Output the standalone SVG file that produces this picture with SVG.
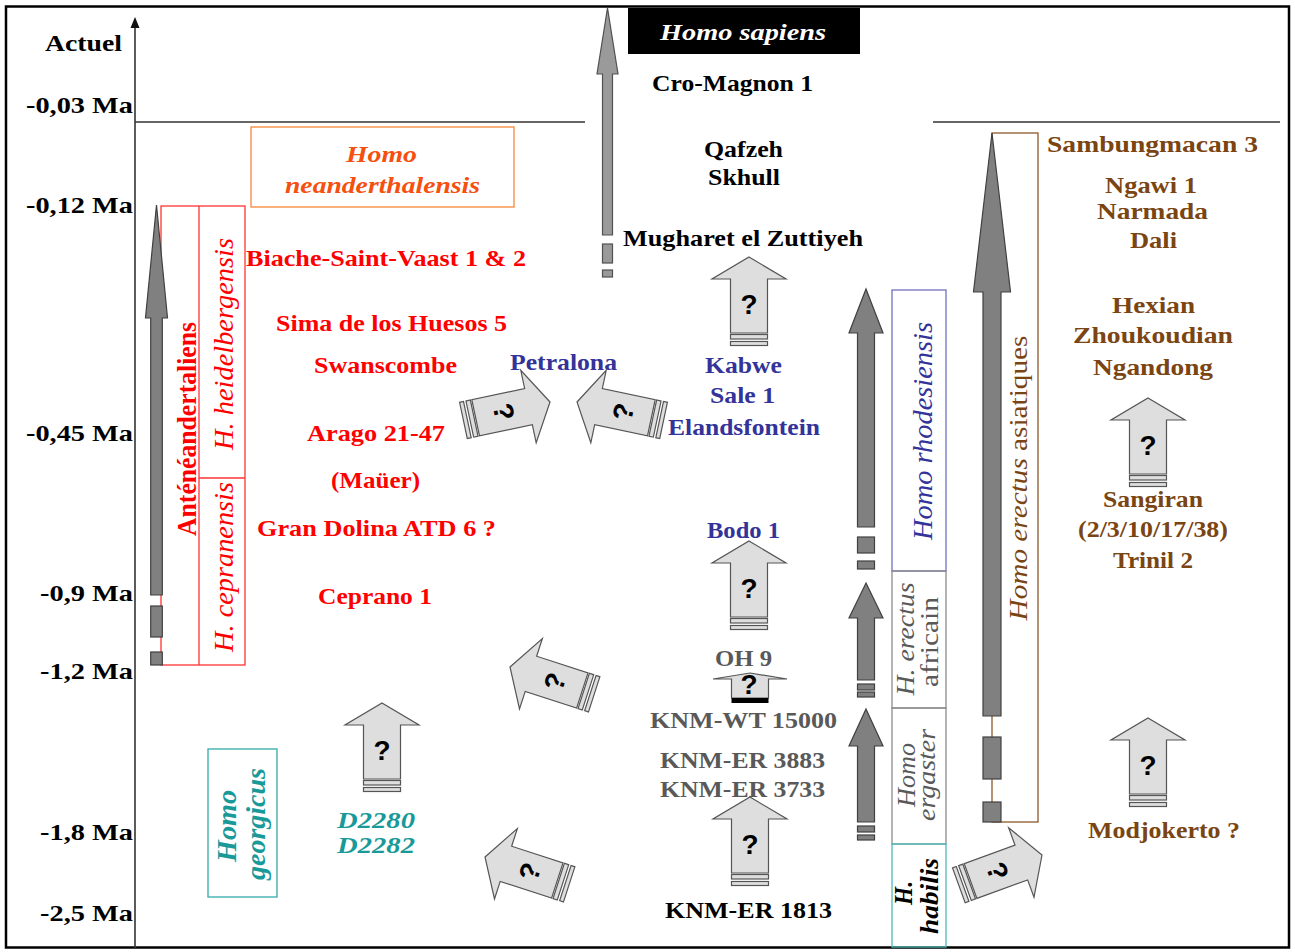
<svg xmlns="http://www.w3.org/2000/svg" xmlns:xlink="http://www.w3.org/1999/xlink" width="1295" height="952" viewBox="0 0 1295 952">
<style>
text{font-family:'Liberation Serif','Times New Roman',serif}
.b{font-weight:bold}
.i{font-style:italic}
.ax{font-size:23px;font-weight:bold;fill:#000}
.lb{font-size:23px;font-weight:bold}
.blk{fill:#000}
.red{fill:#ff0000}
.blu{fill:#333399}
.gry{fill:#595959}
.brn{fill:#7a4512}
.tea{fill:#1a9999}
.org{fill:#f5500f}
.q{font-family:'Liberation Sans',Arial,sans-serif;font-weight:bold;font-size:28px;fill:#000;text-anchor:middle}
.qf{fill:#dedede;stroke:#555;stroke-width:1.2}
.dk{fill:#808080;stroke:#404040;stroke-width:1.2}
.lt{fill:#9a9a9a;stroke:#505050;stroke-width:1.2}
.rot{text-anchor:middle}
</style>
<defs>
<g id="qa">
<path d="M0,0 L37,22 L18.5,22 L18.5,76 L-18.5,76 L-18.5,22 L-37,22 Z" class="qf"/>
<rect x="-18.5" y="77.5" width="37" height="4.5" class="qf"/>
<rect x="-18.5" y="84.5" width="37" height="4" class="qf"/>
<text x="0" y="57" class="q">?</text>
</g>
</defs>
<rect x="0" y="0" width="1295" height="952" fill="#fff"/>
<rect x="6" y="6.5" width="1283" height="941" fill="none" stroke="#000" stroke-width="2.5"/>

<g id="axis">
<line x1="135" y1="26" x2="135" y2="948" stroke="#333" stroke-width="1.6"/>
<path d="M135,17 L139.5,28 L130.5,28 Z" fill="#111"/>
<line x1="135" y1="122" x2="585" y2="122" stroke="#333" stroke-width="1.4"/>
<line x1="933" y1="122" x2="1280" y2="122" stroke="#333" stroke-width="1.4"/>
<text class="ax" x="45" y="51" textLength="77" lengthAdjust="spacingAndGlyphs">Actuel</text>
<text class="ax" x="26" y="113" textLength="107" lengthAdjust="spacingAndGlyphs">-0,03 Ma</text>
<text class="ax" x="26" y="213" textLength="107" lengthAdjust="spacingAndGlyphs">-0,12 Ma</text>
<text class="ax" x="26" y="441" textLength="107" lengthAdjust="spacingAndGlyphs">-0,45 Ma</text>
<text class="ax" x="40" y="601" textLength="93" lengthAdjust="spacingAndGlyphs">-0,9 Ma</text>
<text class="ax" x="40" y="679" textLength="93" lengthAdjust="spacingAndGlyphs">-1,2 Ma</text>
<text class="ax" x="40" y="840" textLength="93" lengthAdjust="spacingAndGlyphs">-1,8 Ma</text>
<text class="ax" x="40" y="921" textLength="93" lengthAdjust="spacingAndGlyphs">-2,5 Ma</text>
</g>

<g id="sapiens">
<rect x="628" y="8" width="232" height="46" fill="#000"/>
<text class="lb i" x="660" y="40" fill="#fff" textLength="166" lengthAdjust="spacingAndGlyphs">Homo sapiens</text>
<path d="M607.5,8 L618,74 L612.5,74 L612.5,235 L602.5,235 L602.5,74 L597,74 Z" class="lt"/>
<rect x="602.5" y="244" width="10" height="19" class="lt"/>
<rect x="602.5" y="270" width="10" height="7" class="lt"/>
<text class="lb blk" x="652" y="91" textLength="161" lengthAdjust="spacingAndGlyphs">Cro-Magnon 1</text>
<text class="lb blk" x="704" y="157" textLength="79" lengthAdjust="spacingAndGlyphs">Qafzeh</text>
<text class="lb blk" x="708" y="185" textLength="72" lengthAdjust="spacingAndGlyphs">Skhull</text>
<text class="lb blk" x="623" y="246" textLength="240" lengthAdjust="spacingAndGlyphs">Mugharet el Zuttiyeh</text>
</g>

<g id="neanderthalensis">
<rect x="251" y="127" width="263" height="80" fill="none" stroke="#f7873a" stroke-width="1.3"/>
<text class="lb i org" x="346" y="162" textLength="71" lengthAdjust="spacingAndGlyphs">Homo</text>
<text class="lb i org" x="285" y="193" textLength="195" lengthAdjust="spacingAndGlyphs">neanderthalensis</text>
</g>

<g id="anteneandertaliens">
<rect x="161" y="206" width="84" height="459" fill="none" stroke="#ff3333" stroke-width="1.3"/>
<line x1="199" y1="206" x2="199" y2="665" stroke="#ff3333" stroke-width="1.3"/>
<line x1="199" y1="478" x2="245" y2="478" stroke="#ff3333" stroke-width="1.3"/>
<path d="M156.5,205 L167.5,318 L162.3,318 L162.3,595 L150.7,595 L150.7,318 L145.5,318 Z" class="dk"/>
<rect x="150.7" y="606" width="11.6" height="31" class="dk"/>
<rect x="150.7" y="652" width="11.6" height="13" class="dk"/>
<text class="rot b red" font-size="24" transform="translate(196,429) scale(1.15,1) rotate(-90)" textLength="214" lengthAdjust="spacingAndGlyphs">Anténéandertaliens</text>
<text class="rot i red" font-size="24" transform="translate(233,344) scale(1.15,1) rotate(-90)" textLength="212" lengthAdjust="spacingAndGlyphs">H. heidelbergensis</text>
<text class="rot i red" font-size="24" transform="translate(233,567) scale(1.15,1) rotate(-90)" textLength="170" lengthAdjust="spacingAndGlyphs">H. cepranensis</text>
</g>

<g id="europe-sites">
<text class="lb red" x="246" y="266" textLength="280" lengthAdjust="spacingAndGlyphs">Biache-Saint-Vaast 1 &amp; 2</text>
<text class="lb red" x="276" y="331" textLength="231" lengthAdjust="spacingAndGlyphs">Sima de los Huesos 5</text>
<text class="lb red" x="314" y="373" textLength="143" lengthAdjust="spacingAndGlyphs">Swanscombe</text>
<text class="lb red" x="307" y="441" textLength="138" lengthAdjust="spacingAndGlyphs">Arago 21-47</text>
<text class="lb red" x="331" y="488" textLength="89" lengthAdjust="spacingAndGlyphs">(Maüer)</text>
<text class="lb red" x="257" y="536" textLength="239" lengthAdjust="spacingAndGlyphs">Gran Dolina ATD 6 ?</text>
<text class="lb red" x="318" y="604" textLength="114" lengthAdjust="spacingAndGlyphs">Ceprano 1</text>
</g>

<g id="africa-sites">
<text class="lb blu" x="510" y="370" textLength="107" lengthAdjust="spacingAndGlyphs">Petralona</text>
<text class="lb blu" x="705" y="373" textLength="77" lengthAdjust="spacingAndGlyphs">Kabwe</text>
<text class="lb blu" x="710" y="403" textLength="65" lengthAdjust="spacingAndGlyphs">Sale 1</text>
<text class="lb blu" x="668" y="435" textLength="152" lengthAdjust="spacingAndGlyphs">Elandsfontein</text>
<text class="lb blu" x="707" y="538" textLength="73" lengthAdjust="spacingAndGlyphs">Bodo 1</text>
<text class="lb gry" x="715" y="666" textLength="57" lengthAdjust="spacingAndGlyphs">OH 9</text>
<text class="lb gry" x="650" y="728" textLength="187" lengthAdjust="spacingAndGlyphs">KNM-WT 15000</text>
<text class="lb gry" x="660" y="768" textLength="165" lengthAdjust="spacingAndGlyphs">KNM-ER 3883</text>
<text class="lb gry" x="660" y="797" textLength="165" lengthAdjust="spacingAndGlyphs">KNM-ER 3733</text>
<text class="lb blk" x="665" y="918" textLength="167" lengthAdjust="spacingAndGlyphs">KNM-ER 1813</text>
</g>

<g id="georgicus">
<rect x="208" y="749" width="69" height="148" fill="none" stroke="#33aaaa" stroke-width="1.3"/>
<text class="rot b i tea" font-size="24" transform="translate(236,826) scale(1.15,1) rotate(-90)" textLength="72" lengthAdjust="spacingAndGlyphs">Homo</text>
<text class="rot b i tea" font-size="24" transform="translate(265,824) scale(1.15,1) rotate(-90)" textLength="112" lengthAdjust="spacingAndGlyphs">georgicus</text>
<text class="lb i tea" x="337" y="828" textLength="78" lengthAdjust="spacingAndGlyphs">D2280</text>
<text class="lb i tea" x="337" y="853" textLength="78" lengthAdjust="spacingAndGlyphs">D2282</text>
</g>

<g id="africa-species">
<rect x="892" y="290" width="54" height="281" fill="none" stroke="#7070c0" stroke-width="1.3"/>
<rect x="892" y="571" width="54" height="137" fill="none" stroke="#8c8c8c" stroke-width="1.3"/>
<rect x="892" y="708" width="54" height="136" fill="none" stroke="#8c8c8c" stroke-width="1.3"/>
<rect x="892" y="844" width="54" height="103" fill="none" stroke="#4bbcbc" stroke-width="1.3"/>
<text class="rot i blu" font-size="24" transform="translate(932,431) scale(1.15,1) rotate(-90)" textLength="218" lengthAdjust="spacingAndGlyphs">Homo rhodesiensis</text>
<text class="rot i gry" font-size="22" transform="translate(914,639) scale(1.15,1) rotate(-90)" textLength="113" lengthAdjust="spacingAndGlyphs">H. erectus</text>
<text class="rot gry" font-size="22" transform="translate(938,642) scale(1.15,1) rotate(-90)" textLength="90" lengthAdjust="spacingAndGlyphs">africain</text>
<text class="rot i gry" font-size="22" transform="translate(915,775) scale(1.15,1) rotate(-90)" textLength="64" lengthAdjust="spacingAndGlyphs">Homo</text>
<text class="rot i gry" font-size="22" transform="translate(935,775) scale(1.15,1) rotate(-90)" textLength="92" lengthAdjust="spacingAndGlyphs">ergaster</text>
<text class="rot b i blk" font-size="22" transform="translate(912,893) scale(1.15,1) rotate(-90)" textLength="24" lengthAdjust="spacingAndGlyphs">H.</text>
<text class="rot b i blk" font-size="22" transform="translate(938,896) scale(1.15,1) rotate(-90)" textLength="76" lengthAdjust="spacingAndGlyphs">habilis</text>
<path d="M866,289 L883,333 L874.5,333 L874.5,527 L857.5,527 L857.5,333 L849,333 Z" class="dk"/>
<rect x="857.5" y="537" width="17" height="16" class="dk"/>
<rect x="857.5" y="561" width="17" height="8" class="dk"/>
<path d="M866,583 L883,618 L874.5,618 L874.5,680 L857.5,680 L857.5,618 L849,618 Z" class="dk"/>
<rect x="857.5" y="684" width="17" height="6" class="dk"/>
<rect x="857.5" y="692" width="17" height="5" class="dk"/>
<path d="M866,709 L883,746 L874.5,746 L874.5,822 L857.5,822 L857.5,746 L849,746 Z" class="dk"/>
<rect x="857.5" y="826" width="17" height="6" class="dk"/>
<rect x="857.5" y="835" width="17" height="5" class="dk"/>
</g>

<g id="erectus-asiatiques">
<rect x="992" y="133" width="46" height="689" fill="none" stroke="#8a5a2a" stroke-width="1.3"/>
<path d="M992,133 L1010.5,292 L1001,292 L1001,716 L983,716 L983,292 L973.5,292 Z" class="dk"/>
<rect x="983" y="737" width="18" height="42" class="dk"/>
<rect x="983" y="802" width="18" height="20" class="dk"/>
<text class="rot brn" font-size="22" transform="translate(1027,478) scale(1.15,1) rotate(-90)" textLength="285" lengthAdjust="spacingAndGlyphs"><tspan font-style="italic">Homo erectus</tspan> asiatiques</text>
</g>

<g id="asia-sites">
<text class="lb brn" x="1047" y="152" textLength="211" lengthAdjust="spacingAndGlyphs">Sambungmacan 3</text>
<text class="lb brn" x="1105" y="193" textLength="92" lengthAdjust="spacingAndGlyphs">Ngawi 1</text>
<text class="lb brn" x="1097" y="219" textLength="111" lengthAdjust="spacingAndGlyphs">Narmada</text>
<text class="lb brn" x="1130" y="248" textLength="47" lengthAdjust="spacingAndGlyphs">Dali</text>
<text class="lb brn" x="1112" y="313" textLength="83" lengthAdjust="spacingAndGlyphs">Hexian</text>
<text class="lb brn" x="1073" y="343" textLength="160" lengthAdjust="spacingAndGlyphs">Zhoukoudian</text>
<text class="lb brn" x="1093" y="375" textLength="120" lengthAdjust="spacingAndGlyphs">Ngandong</text>
<text class="lb brn" x="1103" y="507" textLength="100" lengthAdjust="spacingAndGlyphs">Sangiran</text>
<text class="lb brn" x="1078" y="537" textLength="150" lengthAdjust="spacingAndGlyphs">(2/3/10/17/38)</text>
<text class="lb brn" x="1113" y="568" textLength="80" lengthAdjust="spacingAndGlyphs">Trinil 2</text>
<text class="lb brn" x="1088" y="838" textLength="152" lengthAdjust="spacingAndGlyphs">Modjokerto ?</text>
</g>

<g id="connectors">
<use xlink:href="#qa" transform="translate(749,257)"/>
<use xlink:href="#qa" transform="translate(749,541)"/>
<use xlink:href="#qa" transform="translate(750,797)"/>
<use xlink:href="#qa" transform="translate(382,703)"/>
<use xlink:href="#qa" transform="translate(1148,398)"/>
<use xlink:href="#qa" transform="translate(1148,718)"/>
<use xlink:href="#qa" transform="translate(550,402) rotate(78)"/>
<use xlink:href="#qa" transform="translate(577,402) rotate(-78)"/>
<use xlink:href="#qa" transform="translate(510,667) rotate(-72)"/>
<use xlink:href="#qa" transform="translate(485,857) rotate(-72)"/>
<use xlink:href="#qa" transform="translate(1042,855) rotate(70)"/>
<g id="oh9-arrow">
<path d="M750,673 L787,679 L768.5,679 L768.5,698 L731.5,698 L731.5,679 L713,679 Z" class="qf"/>
<rect x="731.5" y="698" width="37" height="5" fill="#000"/>
<text x="749" y="694" class="q">?</text>
</g>
</g>
</svg>
